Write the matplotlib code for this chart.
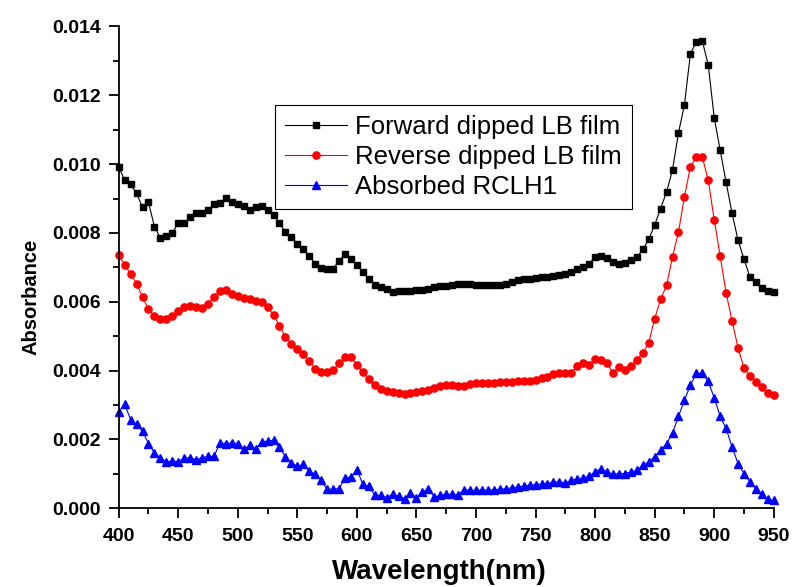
import numpy as np
import matplotlib
matplotlib.use("Agg")
import matplotlib.pyplot as plt
from matplotlib.ticker import MultipleLocator, FormatStrFormatter

plt.rcParams['font.family'] = ['Liberation Sans', 'DejaVu Sans']

wavelength = list(range(400, 951, 5))

forward = [9.92, 9.53, 9.41, 9.15, 8.74, 8.89, 8.18, 7.86, 7.92, 7.99,
           8.29, 8.29, 8.45, 8.57, 8.58, 8.68, 8.84, 8.88, 9.02, 8.89,
           8.84, 8.79, 8.68, 8.76, 8.78, 8.66, 8.52, 8.29, 8.03, 7.87,
           7.69, 7.53, 7.33, 7.11, 6.97, 6.95, 6.96, 7.19, 7.38, 7.24,
           7.06, 6.88, 6.65, 6.50, 6.42, 6.37, 6.28, 6.30, 6.31, 6.32,
           6.33, 6.35, 6.38, 6.42, 6.45, 6.47, 6.49, 6.51, 6.52, 6.51,
           6.50, 6.49, 6.48, 6.48, 6.49, 6.52, 6.57, 6.62, 6.65, 6.67,
           6.69, 6.71, 6.72, 6.74, 6.77, 6.80, 6.87, 6.94, 7.02, 7.11,
           7.29, 7.33, 7.26, 7.16, 7.11, 7.13, 7.21, 7.29, 7.52, 7.81,
           8.23, 8.71, 9.19, 9.83, 10.91, 11.72, 13.20, 13.56, 13.58, 12.88,
           11.35, 10.41, 9.47, 8.57, 7.79, 7.24, 6.72, 6.58, 6.40, 6.32,
           6.29]

reverse = [7.35, 7.08, 6.80, 6.53, 6.14, 5.78, 5.59, 5.51, 5.51, 5.58,
           5.74, 5.85, 5.88, 5.85, 5.83, 5.93, 6.14, 6.32, 6.34, 6.22,
           6.17, 6.12, 6.08, 6.03, 6.00, 5.85, 5.61, 5.30, 4.98, 4.78,
           4.63, 4.48, 4.28, 4.06, 3.96, 3.97, 4.01, 4.21, 4.40, 4.40,
           4.16, 3.96, 3.77, 3.58, 3.48, 3.41, 3.38, 3.35, 3.31, 3.35,
           3.38, 3.41, 3.45, 3.50, 3.55, 3.57, 3.58, 3.56, 3.56, 3.60,
           3.64, 3.65, 3.65, 3.65, 3.66, 3.66, 3.68, 3.70, 3.70, 3.71,
           3.74, 3.78, 3.82, 3.91, 3.93, 3.93, 3.93, 4.13, 4.22, 4.16,
           4.35, 4.30, 4.21, 3.93, 4.11, 4.01, 4.13, 4.32, 4.51, 4.81,
           5.51, 6.07, 6.48, 7.31, 8.03, 9.05, 9.92, 10.21, 10.21, 9.53,
           8.39, 7.33, 6.26, 5.44, 4.67, 4.08, 3.84, 3.67, 3.53, 3.36,
           3.28]

absorbed = [2.80, 3.02, 2.58, 2.44, 2.24, 1.88, 1.61, 1.47, 1.35, 1.38,
            1.35, 1.46, 1.47, 1.41, 1.47, 1.51, 1.51, 1.90, 1.88, 1.91,
            1.88, 1.71, 1.83, 1.73, 1.93, 1.95, 1.98, 1.78, 1.49, 1.32,
            1.22, 1.28, 1.08, 0.99, 0.81, 0.55, 0.56, 0.57, 0.89, 0.91,
            1.12, 0.70, 0.64, 0.38, 0.38, 0.31, 0.41, 0.35, 0.28, 0.44,
            0.31, 0.47, 0.57, 0.33, 0.38, 0.41, 0.41, 0.40, 0.53, 0.53,
            0.52, 0.53, 0.53, 0.54, 0.55, 0.57, 0.60, 0.62, 0.65, 0.67,
            0.69, 0.71, 0.72, 0.77, 0.77, 0.74, 0.81, 0.86, 0.89, 0.93,
            1.06, 1.15, 1.06, 0.99, 1.01, 1.01, 1.06, 1.10, 1.25, 1.35,
            1.50, 1.69, 1.88, 2.19, 2.67, 3.14, 3.58, 3.92, 3.92, 3.69,
            3.21, 2.67, 2.32, 1.78, 1.30, 1.01, 0.77, 0.57, 0.41, 0.26,
            0.23]

labels = ["Forward dipped LB film", "Reverse dipped LB film", "Absorbed RCLH1"]

x = np.array(wavelength)
fig = plt.figure(figsize=(7.94, 5.87), dpi=100)
ax = fig.add_axes([0.1495, 0.134, 0.825, 0.821])

ax.plot(x, np.array(forward) * 1e-3, color='black', marker='s', markersize=4.5,
        linewidth=0.8, label=labels[0], clip_on=False)
ax.plot(x, np.array(reverse) * 1e-3, color='red', marker='o', markersize=5.2,
        linewidth=0.8, label=labels[1], clip_on=False)
ax.plot(x, np.array(absorbed) * 1e-3, color='blue', marker='^', markersize=5.7,
        linewidth=0.8, label=labels[2], clip_on=False)

ax.set_xlim(400, 950)
ax.set_ylim(0, 0.014)
ax.xaxis.set_major_locator(MultipleLocator(50))
ax.xaxis.set_minor_locator(MultipleLocator(25))
ax.yaxis.set_major_locator(MultipleLocator(0.002))
ax.yaxis.set_minor_locator(MultipleLocator(0.001))
ax.yaxis.set_major_formatter(FormatStrFormatter('%.3f'))

for s in ['top', 'right']:
    ax.spines[s].set_visible(False)
for s in ['left', 'bottom']:
    ax.spines[s].set_linewidth(1.3)

ax.tick_params(which='major', direction='out', length=7, width=1.3, labelsize=14)
ax.tick_params(which='minor', direction='out', length=4, width=1.3)
ax.tick_params(axis='x', which='major', pad=7)
ax.tick_params(axis='y', which='major', pad=6)
for lab in ax.get_xticklabels() + ax.get_yticklabels():
    lab.set_fontweight('bold')

ax.set_xlabel("Wavelength(nm)", fontsize=20, fontweight='bold')
ax.xaxis.set_label_coords(0.489, -0.106)
ax.set_ylabel("Absorbance", fontsize=14.5, fontweight='bold')
ax.yaxis.set_label_coords(-0.12, 0.438)

leg = ax.legend(loc='upper left', bbox_to_anchor=(0.2385, 0.837), fontsize=18.5,
                frameon=True, fancybox=False, edgecolor='black', framealpha=1,
                handlelength=2.4, borderpad=0.4, labelspacing=0.22,
                handletextpad=0.3, borderaxespad=0)
leg.get_frame().set_linewidth(0.8)

fig.savefig("out.png", dpi=100)
